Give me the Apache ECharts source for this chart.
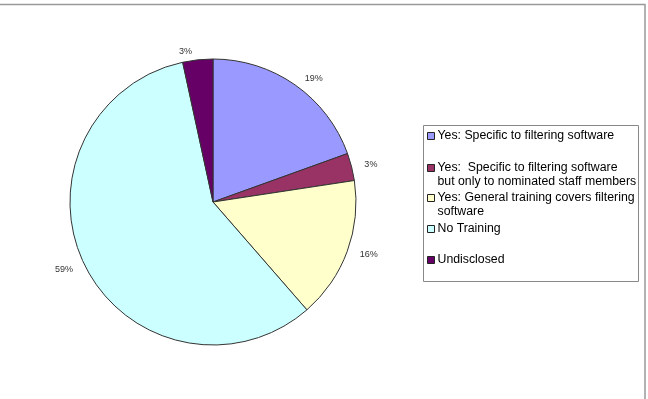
<!DOCTYPE html>
<html>
<head>
<meta charset="utf-8">
<script src="https://cdn.jsdelivr.net/npm/echarts@6/dist/echarts.min.js"></script>
<style>
  html, body { margin: 0; padding: 0; background: #fff; }
  #chart { width: 648px; height: 399px; }
</style>
</head>
<body>
<div id="chart"></div>
<script>
// categories, slice sizes and the printed labels
var categories = [
  'Yes: Specific to filtering software',
  'Yes:  Specific to filtering software\nbut only to nominated staff members',
  'Yes: General training covers filtering\nsoftware',
  'No Training',
  'Undisclosed'
]
var values = [19.5, 3.1, 16.0, 58.0, 3.4]
var pctLabels = ['19%', '3%', '16%', '59%', '3%']
var colors = ['#9999ff', '#993366', '#ffffcc', '#ccffff', '#660066']
var legendTops = [129, 147, 177, 222, 253]

var chart = echarts.init(document.getElementById('chart'))

// one legend per item so the uneven spacing can be kept
var legends = categories.map(function (name, i) {
  var twoLines = name.indexOf('\n') >= 0
  return {
    data: [name],
    orient: 'vertical',
    left: 427,
    top: legendTops[i],
    padding: 0,
    itemWidth: 7,
    itemHeight: 7,
    itemGap: 0,
    icon: 'rect',
    selectedMode: false,
    // blank line on top keeps the marker level with the first line
    formatter: twoLines ? function (n) { return ' \n' + n } : '{name}',
    itemStyle: { borderColor: '#222', borderWidth: 1 },
    textStyle: {
      fontFamily: 'Liberation Sans, Arial',
      fontSize: 12.3,
      color: '#000',
      lineHeight: 14,
      padding: [0, 0, 0, -2]
    }
  }
})

chart.setOption({
  animation: false,
  color: colors,
  graphic: [
    {
      type: 'rect',
      shape: { x: -2, y: 4.5, width: 647, height: 420 },
      style: { fill: 'none', stroke: '#999', lineWidth: 1.5 }
    },
    {
      type: 'rect',
      shape: { x: 423.5, y: 125.5, width: 215, height: 156 },
      style: { fill: 'none', stroke: '#888', lineWidth: 1 }
    }
  ],
  legend: legends,
  series: [
    {
      type: 'pie',
      center: [213, 202],
      radius: 143,
      startAngle: 90,
      clockwise: true,
      avoidLabelOverlap: false,
      itemStyle: { borderColor: '#333', borderWidth: 1 },
      label: {
        show: true,
        position: 'outside',
        formatter: function (p) {
          return pctLabels[p.dataIndex]
        },
        fontFamily: 'Liberation Sans, Arial',
        fontSize: 9,
        color: '#333'
      },
      labelLine: { show: false, length: 8, length2: 0 },
      emphasis: { disabled: true },
      data: categories.map(function (name, i) {
        return { name: name, value: values[i] }
      })
    }
  ]
})
</script>
</body>
</html>
